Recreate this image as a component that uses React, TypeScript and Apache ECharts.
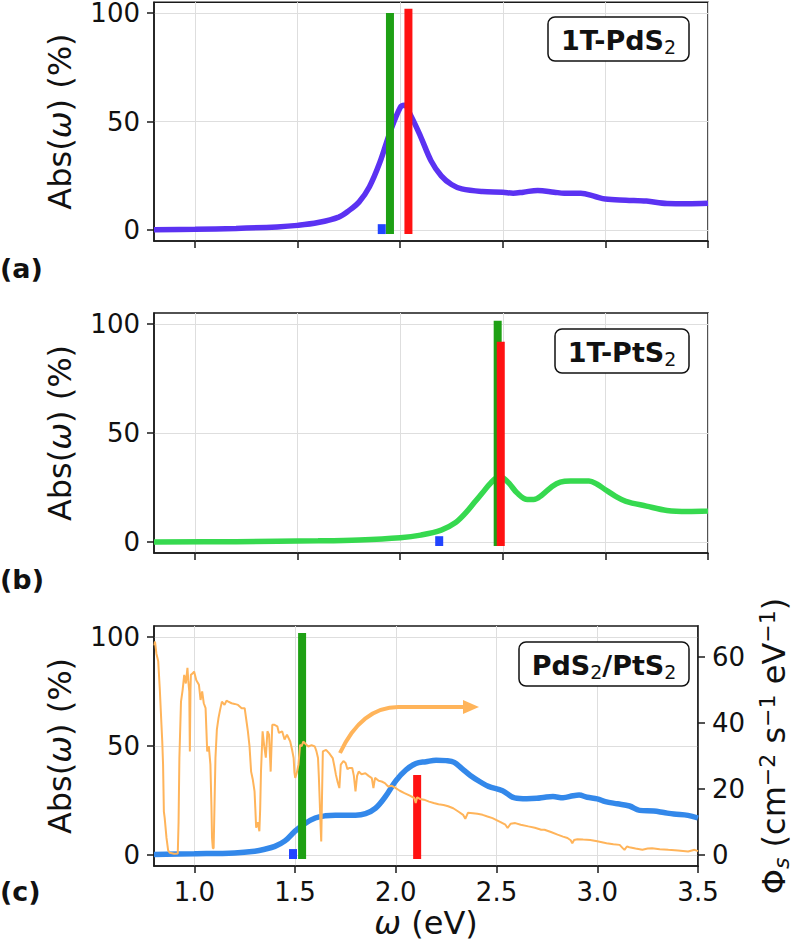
import React, { useEffect, useRef } from "react";
import * as echarts from "echarts";

// ---------- data ----------
const xTicks = [1.0, 1.5, 2.0, 2.5, 3.0, 3.5];
const absTicks = [0, 50, 100];
const fluxTicks = [0, 20, 40, 60];

// panel (a) 1T-PdS2 absorbance
const eA = [0.8, 1.0, 1.2, 1.4, 1.5, 1.6, 1.7, 1.75, 1.8, 1.85, 1.9, 1.95, 2.0, 2.02, 2.05, 2.1, 2.15, 2.2, 2.25, 2.3, 2.4, 2.5, 2.55, 2.6, 2.67, 2.75, 2.8, 2.88, 2.95, 3.0, 3.1, 3.2, 3.3, 3.4, 3.5];
const absA = [0.2, 0.4, 0.8, 1.5, 2.2, 3.5, 6, 9, 13, 20, 31, 45, 56.5, 57.5, 53, 43, 32, 25, 21, 19, 17.8, 17.5, 17, 17.5, 18.3, 17.5, 17, 17, 15.5, 14.3, 13.8, 13.4, 12.3, 12.2, 12.4];

// panel (b) 1T-PtS2 absorbance
const eB = [0.8, 1.2, 1.6, 1.8, 2.0, 2.1, 2.2, 2.27, 2.32, 2.36, 2.4, 2.44, 2.48, 2.5, 2.53, 2.57, 2.62, 2.65, 2.69, 2.74, 2.78, 2.83, 2.92, 2.96, 3.0, 3.05, 3.1, 3.2, 3.3, 3.4, 3.5];
const absB = [0, 0.2, 0.6, 1, 2, 3.2, 5.5, 9, 13.5, 18, 22.5, 27, 29.8, 29.5, 27, 22.5, 19.5, 19.5, 21.5, 25.5, 27.5, 28, 28, 26.5, 24, 21, 18.7, 16.5, 14.5, 14, 14.2];

// panel (c) PdS2/PtS2 absorbance
const eC = [0.8, 1.0, 1.2, 1.3, 1.35, 1.4, 1.45, 1.5, 1.55, 1.6, 1.65, 1.7, 1.8, 1.85, 1.9, 1.95, 2.0, 2.05, 2.1, 2.15, 2.2, 2.25, 2.29, 2.33, 2.37, 2.42, 2.46, 2.53, 2.59, 2.65, 2.7, 2.74, 2.78, 2.83, 2.88, 2.91, 2.95, 3.0, 3.04, 3.1, 3.16, 3.21, 3.28, 3.33, 3.38, 3.45, 3.5];
const absC = [0.3, 0.6, 1, 1.8, 2.7, 4, 6.5, 11, 14.5, 17, 18, 18.3, 18.3, 19, 21.5, 27, 34, 39, 42, 42.8, 43.5, 43.3, 42.5, 39.5, 36.5, 33.5, 31.5, 29.5, 26.2, 25.8, 26, 26.5, 26.8, 26.3, 27.2, 27.5, 26.5, 25.8, 24.5, 23.5, 22.5, 20.5, 20.2, 19.5, 18.8, 18.2, 17];

// solar photon flux (right axis of panel c)
const eSun = [0.802, 0.805, 0.812, 0.821, 0.829, 0.837, 0.841, 0.845, 0.849, 0.853, 0.862, 0.87, 0.878, 0.9, 0.918, 0.922, 0.926, 0.934, 0.942, 0.95, 0.958, 0.966, 0.97, 0.975, 0.978, 0.981, 0.983, 0.991, 0.999, 1.01, 1.023, 1.031, 1.039, 1.047, 1.056, 1.06, 1.064, 1.072, 1.08, 1.085, 1.088, 1.092, 1.096, 1.105, 1.112, 1.12, 1.128, 1.137, 1.15, 1.16, 1.169, 1.185, 1.2, 1.217, 1.235, 1.25, 1.258, 1.266, 1.274, 1.282, 1.29, 1.299, 1.303, 1.307, 1.315, 1.323, 1.327, 1.331, 1.339, 1.347, 1.355, 1.363, 1.371, 1.379, 1.387, 1.396, 1.412, 1.42, 1.436, 1.448, 1.46, 1.476, 1.485, 1.493, 1.497, 1.501, 1.509, 1.517, 1.525, 1.533, 1.541, 1.555, 1.566, 1.582, 1.598, 1.606, 1.614, 1.618, 1.622, 1.626, 1.63, 1.634, 1.638, 1.654, 1.67, 1.687, 1.695, 1.703, 1.712, 1.72, 1.727, 1.74, 1.751, 1.76, 1.768, 1.784, 1.792, 1.8, 1.808, 1.816, 1.83, 1.849, 1.865, 1.881, 1.889, 1.897, 1.915, 1.93, 1.946, 1.962, 1.98, 1.994, 2.02, 2.043, 2.07, 2.092, 2.099, 2.106, 2.12, 2.14, 2.165, 2.188, 2.212, 2.237, 2.26, 2.285, 2.31, 2.334, 2.345, 2.358, 2.383, 2.405, 2.431, 2.455, 2.48, 2.5, 2.52, 2.544, 2.555, 2.57, 2.593, 2.62, 2.658, 2.69, 2.722, 2.738, 2.77, 2.803, 2.83, 2.852, 2.868, 2.876, 2.885, 2.901, 2.93, 2.965, 3.0, 3.046, 3.08, 3.111, 3.125, 3.135, 3.147, 3.159, 3.19, 3.224, 3.25, 3.272, 3.31, 3.353, 3.4, 3.451, 3.483, 3.5];
const fluxSun = [63.5, 64.7, 61, 58.7, 50, 39.5, 34.4, 27.4, 13.2, 11.3, 5.2, 1.5, 0.7, 0.4, 0.5, 10, 29.5, 46.5, 50, 54.6, 52, 56.7, 53, 49.6, 31.4, 50, 54.6, 55, 55.6, 53, 51.6, 47, 49.6, 46, 44.5, 38, 31.4, 33, 27.4, 15, 5.2, 2.1, 2.1, 29.4, 38, 41.5, 44, 46.5, 45.5, 46.8, 46.5, 46, 45.8, 45.5, 44.5, 44.5, 41, 37.5, 33, 25.3, 23, 19.3, 14, 8.3, 10, 7.2, 14, 25.3, 37.5, 33, 29.5, 37.5, 36.5, 25.3, 39.5, 39.5, 39, 37, 37.5, 35, 36.5, 34.4, 32, 29.4, 25, 23.4, 25, 27.4, 33.4, 33, 34.4, 33.5, 32.9, 33.3, 32.9, 31.5, 29.4, 24, 17.3, 10, 4.1, 18, 31.4, 31.9, 30.8, 29.4, 27, 24.3, 22, 20.3, 27.4, 28.5, 27.9, 26, 26.4, 26.4, 24, 19.3, 24, 25.3, 24.5, 24.8, 24, 23.3, 20.3, 23.4, 22.5, 22.3, 21.8, 20.8, 21, 20.5, 19.5, 18.8, 18, 17.3, 15.8, 17.5, 17, 16.8, 16.2, 15.8, 15.4, 15.2, 14.8, 14.2, 13.2, 12.2, 11, 12.8, 12.7, 12.5, 12.2, 11.7, 11.2, 10.6, 10, 9.2, 8.2, 9.5, 9.7, 9.2, 8.7, 8.3, 7.7, 7.7, 7, 6.2, 5.6, 5.2, 4.5, 3.6, 4.6, 4.8, 4.7, 4.6, 4.2, 3.6, 3.3, 3.1, 2.2, 1.6, 2.6, 2.4, 2, 1.6, 2, 2.1, 1.8, 1.6, 1.4, 1.1, 1.6, 1.2];

// excitation markers: [energy, top, bottom, kind] kind 0 = blue, 1 = green, 2 = red
const markersA = [[1.91, 2.75, -1.8, 0], [1.95, 100, -1.8, 1], [2.04, 102, -1.8, 2]];
const markersB = [[2.19, 2.7, -1.8, 0], [2.475, 101.4, -1.8, 1], [2.49, 91.8, -1.8, 2]];
const markersC = [[1.49, 2.75, -1.8, 0], [1.535, 101.8, -1.8, 1], [2.106, 36.7, -1.8, 2]];

// ---------- styles ----------
const FONT = "DejaVu Sans";
const AXIS_COLOR = "#1a1a1a";
const GRID_COLOR = "#dedede";
const TICK_FS = 26;
const NAME_FS = 32;
const markerColors = ["#2244ff", "#1ea014", "#ff1212"];

const zip = (a: number[], b: number[]) => a.map((v, i) => [v, b[i]]);

const gridTops = [1, 313, 626];
const GRID_LEFT = 154;
const GRID_W = 554;
const GRID_H = 240;

function xAxis(gridIndex: number, showLabel: boolean) {
  return {
    type: "value",
    gridIndex,
    min: 0.8,
    max: 3.5,
    axisLine: { show: true, onZero: false, lineStyle: { color: AXIS_COLOR, width: 1.5 } },
    axisTick: { show: true, inside: false, length: 7, customValues: xTicks, lineStyle: { color: AXIS_COLOR, width: 1.5 } },
    axisLabel: {
      show: showLabel,
      customValues: xTicks,
      formatter: (v: number) => v.toFixed(1),
      fontSize: TICK_FS,
      fontFamily: FONT,
      color: "#111",
      margin: 13,
    },
    splitLine: { show: true, lineStyle: { color: GRID_COLOR, width: 1 } },
    ...(showLabel
      ? {
          name: "{w|ω} (eV)",
          nameLocation: "middle",
          nameGap: 41,
          nameTextStyle: {
            fontSize: NAME_FS,
            fontFamily: FONT,
            color: "#111",
            rich: { w: { fontSize: NAME_FS, fontFamily: FONT, fontStyle: "italic", color: "#111" } },
          },
        }
      : {}),
  };
}

function absAxis(gridIndex: number) {
  return {
    type: "value",
    gridIndex,
    min: -5,
    max: 105,
    axisLine: { show: true, onZero: false, lineStyle: { color: AXIS_COLOR, width: 1.5 } },
    axisTick: { show: true, inside: false, length: 7, customValues: absTicks, lineStyle: { color: AXIS_COLOR, width: 1.5 } },
    axisLabel: { customValues: absTicks, fontSize: TICK_FS, fontFamily: FONT, color: "#111", margin: 14 },
    splitLine: { show: true, lineStyle: { color: GRID_COLOR, width: 1 } },
    name: "Abs({w|ω}) (%)",
    nameLocation: "middle",
    nameRotate: 90,
    nameGap: 78,
    nameTextStyle: {
      fontSize: NAME_FS,
      fontFamily: FONT,
      color: "#111",
      rich: { w: { fontSize: NAME_FS, fontFamily: FONT, fontStyle: "italic", color: "#111" } },
    },
  };
}

function markerSeries(data: number[][], xi: number, yi: number) {
  return {
    type: "custom",
    xAxisIndex: xi,
    yAxisIndex: yi,
    z: 3,
    encode: { x: 0, y: [1, 2] },
    data,
    renderItem: (_p: any, api: any) => {
      const x = api.value(0);
      const top = api.coord([x, api.value(1)]);
      const bot = api.coord([x, api.value(2)]);
      const kind = api.value(3);
      const w = 8;
      return {
        type: "rect",
        shape: { x: top[0] - w / 2, y: top[1], width: w, height: bot[1] - top[1] },
        style: { fill: markerColors[kind] },
      };
    },
  };
}

function lineSeries(data: number[][], xi: number, yi: number, color: string) {
  return {
    type: "line",
    xAxisIndex: xi,
    yAxisIndex: yi,
    data,
    smooth: 0.35,
    symbol: "none",
    z: 2,
    lineStyle: { color, width: 5.5 },
  };
}

function labelBox(x: number, y: number, w: number, h: number, text: string) {
  return [
    {
      type: "rect",
      z: 50,
      shape: { x, y, width: w, height: h, r: 7 },
      style: { fill: "#fff", stroke: "#111", lineWidth: 1.5 },
    },
    {
      type: "text",
      z: 51,
      x: x + w / 2,
      y: y + h / 2 + 1,
      style: {
        text,
        align: "center",
        verticalAlign: "middle",
        fontSize: 27,
        fontWeight: "bold",
        fontFamily: FONT,
        fill: "#111",
        rich: {
          b: { fontSize: 27, fontWeight: "bold", fontFamily: FONT, fill: "#111", lineHeight: 32 },
          s: { fontSize: 19, fontFamily: FONT, fill: "#111", verticalAlign: "bottom", lineHeight: 20 },
        },
      },
    },
  ];
}

export default function App() {
  const ref = useRef<HTMLDivElement>(null);
  useEffect(() => {
    if (!ref.current) return;
    const chart = echarts.init(ref.current, undefined, { renderer: "svg" });
    const option: any = {
      animation: false,
      backgroundColor: "#fff",
      textStyle: { fontFamily: FONT },
      grid: gridTops.map((t) => ({
        left: GRID_LEFT,
        top: t,
        width: GRID_W,
        height: GRID_H,
        show: true,
        borderColor: AXIS_COLOR,
        borderWidth: 1.5,
        backgroundColor: "transparent",
        containLabel: false,
      })),
      xAxis: [xAxis(0, false), xAxis(1, false), xAxis(2, true)],
      yAxis: [
        absAxis(0),
        absAxis(1),
        absAxis(2),
        {
          type: "value",
          gridIndex: 2,
          position: "right",
          min: -3.3,
          max: 69.4,
          axisLine: { show: true, onZero: false, lineStyle: { color: AXIS_COLOR, width: 1.5 } },
          axisTick: { show: true, inside: false, length: 7, customValues: fluxTicks, lineStyle: { color: AXIS_COLOR, width: 1.5 } },
          axisLabel: { customValues: fluxTicks, fontSize: TICK_FS, fontFamily: FONT, color: "#111", margin: 14 },
          splitLine: { show: false },
          name: "Φ{s|s} (cm{p|−2} s{p|−1} eV{p|−1})",
          nameLocation: "middle",
          nameRotate: 90,
          nameGap: 54,
          nameTextStyle: {
            fontSize: NAME_FS,
            fontFamily: FONT,
            color: "#111",
            lineHeight: 36,
            rich: {
              s: { fontSize: 22, fontFamily: FONT, fontStyle: "italic", color: "#111", verticalAlign: "bottom", lineHeight: 22 },
              p: { fontSize: 22, fontFamily: FONT, color: "#111", verticalAlign: "top", lineHeight: 22 },
            },
          },
        },
      ],
      series: [
        lineSeries(zip(eA, absA), 0, 0, "#5b32f2"),
        markerSeries(markersA, 0, 0),
        lineSeries(zip(eB, absB), 1, 1, "#36d94f"),
        markerSeries(markersB, 1, 1),
        lineSeries(zip(eC, absC), 2, 2, "#3388ea"),
        markerSeries(markersC, 2, 2),
        {
          type: "line",
          xAxisIndex: 2,
          yAxisIndex: 3,
          data: zip(eSun, fluxSun),
          symbol: "none",
          z: 4,
          lineStyle: { color: "#ffb45a", width: 2 },
        },
      ],
      graphic: [
        ...labelBox(548, 17, 141, 44, "{b|1T-PdS}{s|2}"),
        ...labelBox(555, 329, 134, 44, "{b|1T-PtS}{s|2}"),
        ...labelBox(519, 642, 170, 44, "{b|PdS}{s|2}{b|/PtS}{s|2}"),
        { type: "text", z: 60, x: 0, y: 268, style: { text: "(a)", fontSize: 27, fontWeight: "bold", fontFamily: FONT, fill: "#111", verticalAlign: "middle" } },
        { type: "text", z: 60, x: 0, y: 579, style: { text: "(b)", fontSize: 27, fontWeight: "bold", fontFamily: FONT, fill: "#111", verticalAlign: "middle" } },
        { type: "text", z: 60, x: 0, y: 891, style: { text: "(c)", fontSize: 27, fontWeight: "bold", fontFamily: FONT, fill: "#111", verticalAlign: "middle" } },
        {
          type: "bezierCurve",
          z: 60,
          shape: { x1: 340, y1: 753, cpx1: 362, cpy1: 706, x2: 400, y2: 707 },
          style: { stroke: "#ffb45a", lineWidth: 4, fill: "none" },
        },
        {
          type: "line",
          z: 60,
          shape: { x1: 399, y1: 707, x2: 468, y2: 707 },
          style: { stroke: "#ffb45a", lineWidth: 4 },
        },
        {
          type: "polygon",
          z: 60,
          shape: { points: [[463, 700], [479, 707], [463, 714]] },
          style: { fill: "#ffb45a" },
        },
      ],
    };
    chart.setOption(option);
    return () => chart.dispose();
  }, []);
  return <div ref={ref} style={{ position: "absolute", left: 0, top: 0, width: 800, height: 943 }} />;
}
